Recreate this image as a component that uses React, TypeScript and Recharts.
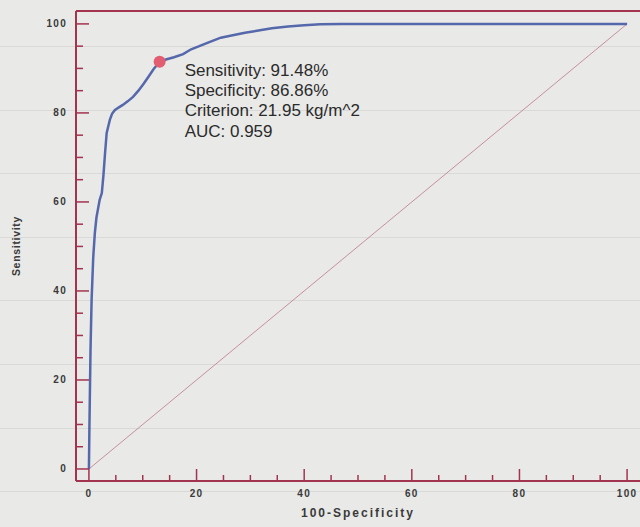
import { LineChart, Line, XAxis, YAxis, ReferenceLine, ReferenceDot, Label } from "recharts";

// ROC curve (x = 100-Specificity, y = Sensitivity)
const rocFpr = [
  0, 0.1, 0.3, 0.5, 0.8, 1.1, 1.4, 1.7, 2.0, 2.4, 2.7, 3.0, 3.3, 3.6, 3.9, 4.3, 4.8, 5.5, 6.3, 7.2, 8.2, 9.2, 10.2,
  11.1, 12.0, 13.14, 14.3, 15.8, 17.5, 19.0, 20.5, 21.9, 23.2, 24.5, 26.5, 29.0, 31.5, 34.0, 37.0, 40.0, 43.0, 47.0,
  55, 65, 75, 85, 100,
];
const rocTpr = [
  0, 10, 27, 38, 47.5, 53, 56.5, 58.5, 60.5, 62, 66, 71, 75.5, 77, 78.5, 79.8, 80.6, 81.2, 81.8, 82.6, 83.6, 85, 86.6,
  88.2, 89.8, 91.48, 92, 92.5, 93.2, 94.3, 95, 95.7, 96.3, 96.9, 97.4, 98, 98.5, 99, 99.4, 99.7, 99.9, 100,
  100, 100, 100, 100, 100,
];
const diagX = [0, 100];
const diagY = [0, 100];

const cutoffX = 13.14; // 100 - 86.86
const cutoffY = 91.48;
const infoLines = ["Sensitivity: 91.48%", "Specificity: 86.86%", "Criterion: 21.95 kg/m^2", "AUC: 0.959"];

const xTicks = Array.from({ length: 21 }, (_, i) => i * 5);
const yTicks = Array.from({ length: 21 }, (_, i) => i * 5);

const rocData = rocFpr.map((x, i) => ({ x, y: rocTpr[i] }));
const diagData = diagX.map((x, i) => ({ x, y: diagY[i] }));

const AXIS = "#a3344f";
const BG = "#e9e9e7";
const TICK_FONT = "'Liberation Sans', Arial, sans-serif";
const MARGIN = 8;

function YTick(props: any) {
  const { x, y, payload } = props;
  const v = payload.value;
  const major = v % 20 === 0;
  const ax = x + MARGIN;
  return (
    <g>
      <line x1={ax} x2={ax + (major ? 13 : 7)} y1={y} y2={y} stroke={AXIS} strokeWidth={1.5} />
      {major && (
        <text x={x - 1} y={y} dy="0.35em" textAnchor="end" fill="#3a3a3a" fontSize={10} fontWeight="bold"
          fontFamily={TICK_FONT} letterSpacing={1.3}>
          {v}
        </text>
      )}
    </g>
  );
}

function XTick(props: any) {
  const { x, y, payload } = props;
  const v = payload.value;
  const major = v % 20 === 0;
  const ay = y - MARGIN;
  return (
    <g>
      <line x1={x} x2={x} y1={ay} y2={ay - (major ? 12 : 6)} stroke={AXIS} strokeWidth={1.5} />
      {major && (
        <text x={x} y={ay + 16} textAnchor="middle" fill="#3a3a3a" fontSize={10} fontWeight="bold"
          fontFamily={TICK_FONT} letterSpacing={1.3}>
          {v}
        </text>
      )}
    </g>
  );
}

function InfoText(props: any) {
  const { viewBox } = props;
  const cx = viewBox.x + viewBox.width / 2;
  const cy = viewBox.y + viewBox.height / 2;
  return (
    <g>
      {infoLines.map((t, i) => (
        <text key={t} x={cx + 25} y={cy + 14 + i * 20.3} fill="#2b2b2b" fontSize={17}
          fontFamily="'Liberation Sans', Arial, sans-serif">
          {t}
        </text>
      ))}
    </g>
  );
}

function YTitle(props: any) {
  const { viewBox } = props;
  const cx = viewBox.x + 20;
  const cy = viewBox.y + viewBox.height / 2;
  return (
    <text x={cx} y={cy} transform={`rotate(-90 ${cx} ${cy})`} textAnchor="middle" fill="#3a3a3a"
      fontSize={10.5} fontWeight="bold" fontFamily={TICK_FONT} letterSpacing={0.7}>
      Sensitivity
    </text>
  );
}

// faint ruled lines of the scanned paper
const paper =
  "repeating-linear-gradient(to bottom, transparent 0px, transparent 46px, rgba(0,0,0,0.07) 46px, rgba(0,0,0,0.07) 47px, transparent 47px, transparent 63.6px)";

export default function App() {
  return (
    <div
      style={{
        position: "fixed",
        left: 0,
        top: 0,
        width: 640,
        height: 527,
        background: `${paper}, ${BG}`,
        overflow: "hidden",
      }}
    >
      <LineChart width={640} height={527} margin={{ top: 11, right: 0, left: 0, bottom: 0 }}>
        <XAxis
          type="number"
          dataKey="x"
          domain={[-2.4, 102.4]}
          allowDataOverflow
          ticks={xTicks}
          interval={0}
          tick={<XTick />}
          tickLine={false}
          tickSize={0}
          tickMargin={MARGIN}
          height={46}
          axisLine={{ stroke: AXIS, strokeWidth: 2 }}
        >
          <Label value="100-Specificity" position="insideBottom" offset={10} fill="#3a3a3a" fontSize={12}
            fontWeight="bold" fontFamily={TICK_FONT} letterSpacing={2} />
        </XAxis>
        <YAxis
          type="number"
          dataKey="y"
          domain={[-2.7, 102.9]}
          allowDataOverflow
          ticks={yTicks}
          interval={0}
          tick={<YTick />}
          tickLine={false}
          tickSize={0}
          tickMargin={MARGIN}
          width={76}
          axisLine={{ stroke: AXIS, strokeWidth: 2 }}
        >
          <Label content={<YTitle />} />
        </YAxis>
        <ReferenceLine y={102.9} stroke={AXIS} strokeWidth={2} />
        <Line data={diagData} dataKey="y" stroke="#c0808e" strokeWidth={1} strokeOpacity={0.85} dot={false}
          isAnimationActive={false} />
        <Line data={rocData} dataKey="y" stroke="#5468ab" strokeWidth={2.5} dot={false} isAnimationActive={false} />
        <ReferenceDot x={cutoffX} y={cutoffY} r={6} fill="#e35d70" stroke="none">
          <Label content={<InfoText />} />
        </ReferenceDot>
      </LineChart>
    </div>
  );
}
